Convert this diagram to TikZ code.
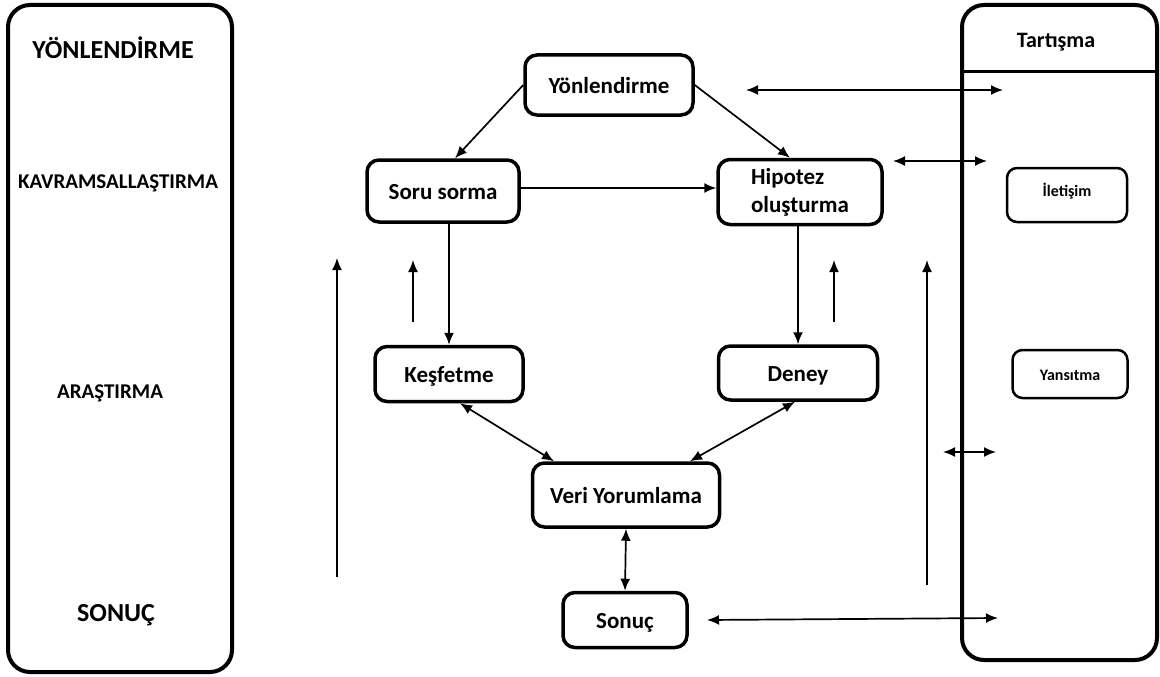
\documentclass[tikz,border=0pt]{standalone}
\usepackage{fontspec}
\setmainfont{Carlito}
\usetikzlibrary{arrows.meta}
\tikzstyle{stage}=[draw, line width=3.5pt, rounded corners=12pt, inner sep=0pt, text height=21pt, text depth=5pt, font=\bfseries\fontsize{23}{28}\selectfont]
\tikzstyle{small}=[draw, line width=2.5pt, rounded corners=10pt, inner sep=0pt, text height=15pt, text depth=3pt, font=\bfseries\fontsize{16}{19}\selectfont]
\tikzstyle{phase}=[font=\bfseries\fontsize{21}{25}\selectfont]
\tikzstyle{bigphase}=[font=\bfseries\fontsize{26}{30}\selectfont]
\tikzstyle{link}=[line width=1.7pt]
\tikzset{>={Latex[length=12pt,width=10pt]}}

\begin{document}
\begin{tikzpicture}[x=1pt,y=-1pt]
  \useasboundingbox (0,0) rectangle (1160,677);
  %% Phases on the left
  \draw[line width=4pt, rounded corners=22pt] (8,5) rectangle (232,672);
  \draw (113,48) node[bigphase] (orient) {YÖNLENDİRME};
  \draw (118,183) node[phase] (concept) {KAVRAMSALLAŞTIRMA};
  \draw (110,393) node[phase] (invest) {ARAŞTIRMA};
  \draw (116,615) node[bigphase] (concl) {SONUÇ};

  %% Discussion on the right
  \draw[line width=4pt, rounded corners=22pt] (962,5) rectangle (1157,660);
  \draw[line width=3pt] (962,72) -- (1157,72);
  \draw (1056,42) node[font=\bfseries\fontsize{22}{26}\selectfont] (disc) {Tartışma};
  \draw (1067,195) node[small,text height=12pt,text depth=10pt,minimum width=120,minimum height=54] (comm) {İletişim\hspace{16pt}};
  \draw (1070,374) node[small,minimum width=115,minimum height=48] (refl) {Yansıtma\hspace{6pt}};

  %% Inquiry cycle
  \draw (609,85) node[stage,minimum width=168,minimum height=60] (yon) {Yönlendirme};
  \draw (443,191) node[stage,minimum width=152,minimum height=62] (soru) {Soru sorma};
  \draw (800,192) node[stage,text height=46pt,minimum width=164,minimum height=65,align=left] (hip) {Hipotez\\oluşturma};
  \draw (449,374) node[stage,minimum width=148,minimum height=55] (kes) {Keşfetme};
  \draw (798,373) node[stage,minimum width=159,minimum height=54] (deney) {Deney};
  \draw (626,495) node[stage,minimum width=187,minimum height=64] (veri) {Veri Yorumlama};
  \draw (625,620) node[stage,minimum width=124,minimum height=55] (sonuc) {Sonuç};

  \draw[->,link] (yon.west) -- ([xshift=12pt]soru.north);
  \draw[->,link] (yon.east) -- ([xshift=-10pt]hip.north);
  \draw[->,link] ([yshift=3pt]soru.east) -- ([yshift=3pt]soru.east -| hip.west);
  \draw[->,link] (kes.north |- soru.south) -- (kes.north);
  \draw[->,link] (hip.south -| deney.north) -- (deney.north);
  \draw[<->,link] ([xshift=11pt]kes.south) -- ([xshift=-72pt]veri.north);
  \draw[<->,link] ([xshift=-3pt]deney.south) -- ([xshift=64pt]veri.north);
  \draw[<->,link] (veri.south) -- (sonuc.north);

  %% Free ends
  \coordinate (a1) at (413,322); \coordinate (a2) at (413,260);
  \coordinate (b1) at (834,322); \coordinate (b2) at (834,260);
  \coordinate (c1) at (337,577); \coordinate (c2) at (337,258);
  \coordinate (d1) at (927,585); \coordinate (d2) at (927,260);
  \coordinate (t1) at (746,90);  \coordinate (t2) at (1003,90);
  \coordinate (h1) at (893,161); \coordinate (h2) at (987,161);
  \coordinate (m1) at (943,452); \coordinate (m2) at (996,452);
  \coordinate (s1) at (707,620); \coordinate (s2) at (998,618);

  \draw[->,link] (a1) -- (a2);
  \draw[->,link] (b1) -- (b2);
  \draw[->,link] (c1) -- (c2);
  \draw[->,link] (d1) -- (d2);
  \draw[<->,link] (t1) -- (t2);
  \draw[<->,link] (h1) -- (h2);
  \draw[<->,link] (m1) -- (m2);
  \draw[<->,link] (s1) -- (s2);
\end{tikzpicture}
\end{document}
